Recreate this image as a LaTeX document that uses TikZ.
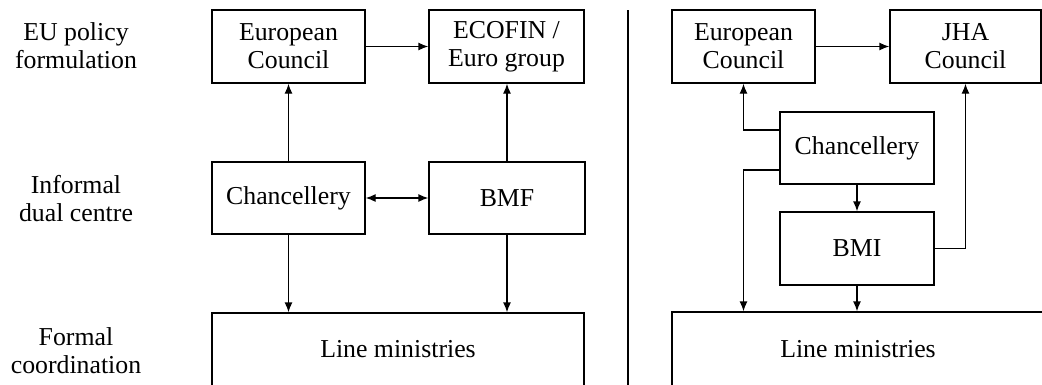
\documentclass[tikz,border=0pt]{standalone}
\usepackage{fontspec}
\setmainfont{Liberation Serif}
\usetikzlibrary{arrows.meta}
\tikzset{
  box/.style={draw, line width=1.3pt, inner sep=0pt, align=center, minimum height=73pt},
  rowlabel/.style={align=center, inner sep=0pt},
  link/.style={line width=1.3pt, -{Latex[length=10pt,width=8pt]}},
}
\begin{document}
\begin{tikzpicture}[x=1pt, y=-1pt, font=\fontsize{25.8}{28}\selectfont]
    \useasboundingbox (0,0) rectangle (1042,384);
    \node[rowlabel] (lab1) at (76,46) {EU policy\\formulation};
    \node[rowlabel] (lab2) at (76,199) {Informal\\dual centre};
    \node[rowlabel] (lab3) at (76,351) {Formal\\coordination};
    \node[box, minimum width=153pt] (ecl) at (288.5,46.5) {European\\Council};
    \node[box, minimum width=155pt] (ecofin) at (506.5,46.5) {ECOFIN /\\Euro group};
    \node[box, minimum width=153pt, minimum height=72pt] (chl) at (288.5,198) {Chancellery};
    \node[box, minimum width=156pt, minimum height=72pt] (bmf) at (507,198) {BMF};
    \node[box, minimum width=372pt, minimum height=73pt] (lml) at (398,349.5) {Line ministries};
    \draw[line width=1.3pt] (628,10) -- (628,390);
    \node[box, minimum width=143pt] (ecr) at (743.5,46.5) {European\\Council};
    \node[box, minimum width=151pt] (jha) at (965.5,46.5) {JHA\\Council};
    \node[box, minimum width=154pt, minimum height=72pt] (chr) at (857,148) {Chancellery};
    \node[box, minimum width=154pt] (bmi) at (857,248.5) {BMI};
    \node[box, minimum width=372pt, minimum height=74pt] (lmr) at (858,349) {Line ministries};
    \draw[link] (ecl) -- (ecofin);
    \draw[link] (chl) -- (ecl);
    \draw[link] (bmf.north) -- (bmf.north |- ecofin.south);
    \draw[link, {Latex[length=10pt,width=8pt]}-{Latex[length=10pt,width=8pt]}] (chl) -- (bmf);
    \draw[link] (chl.south) -- (chl.south |- lml.north);
    \draw[link] (bmf.south) -- (bmf.south |- lml.north);
    \draw[link] (ecr) -- (jha);
    \draw[link] ([yshift=18pt]chr.west) -| (ecr.south);
    \draw[link] ([yshift=-22pt]chr.west) -| (ecr.south |- lmr.north);
    \draw[link] (chr) -- (bmi);
    \draw[link] (bmi.east) -| (jha.south);
    \draw[link] (bmi.south) -- (bmi.south |- lmr.north);
\end{tikzpicture}
\end{document}
